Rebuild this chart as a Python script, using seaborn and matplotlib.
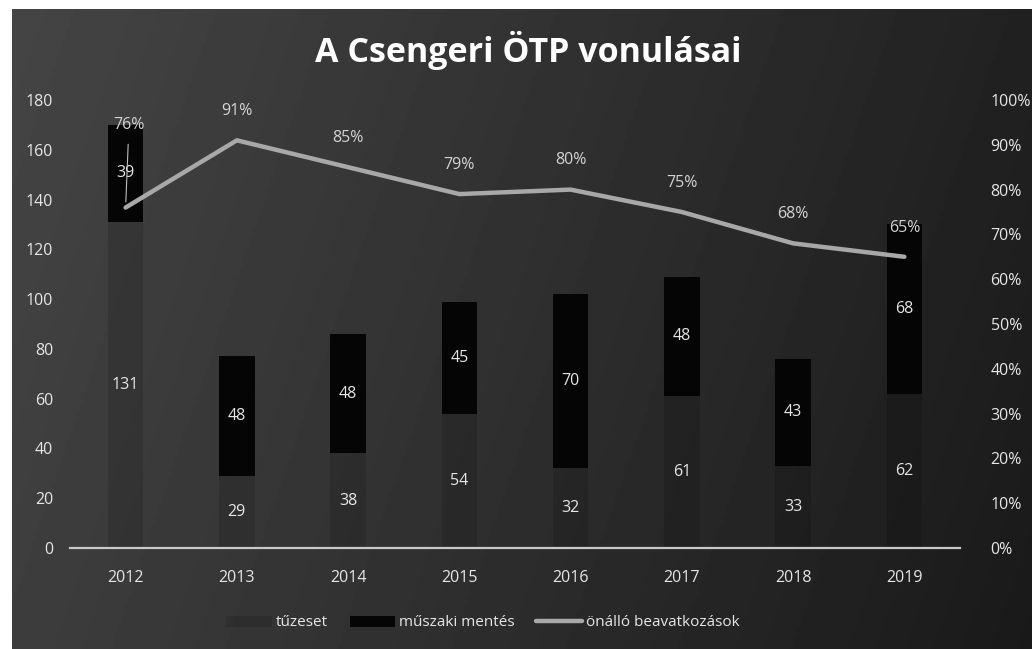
import numpy as np
import pandas as pd
import matplotlib
matplotlib.use("Agg")
import matplotlib.pyplot as plt
from matplotlib.ticker import PercentFormatter, MultipleLocator
import seaborn as sns

# ---- data ----
years = ["2012", "2013", "2014", "2015", "2016", "2017", "2018", "2019"]
tuzeset = [131, 29, 38, 54, 32, 61, 33, 62]
muszaki = [39, 48, 48, 45, 70, 48, 43, 68]
onallo = [76, 91, 85, 79, 80, 75, 68, 65]

title = "A Csengeri ÖTP vonulásai"
label_tuz = "tűzeset"
label_musz = "műszaki mentés"
label_onallo = "önálló beavatkozások"

sns.set_theme(style="white")
plt.rcParams["font.family"] = ["Open Sans", "DejaVu Sans"]

W, H = 1032, 649
fig = plt.figure(figsize=(W / 100, H / 100), dpi=100, facecolor="white")

# dark scanned-looking background
bg = fig.add_axes([12 / W, 0, 1 - 12 / W, 1 - 9 / H], zorder=-5)
gx = np.linspace(0, 1, 300)
gy = np.linspace(0, 1, 200)
GX, GY = np.meshgrid(gx, gy)
grad = 0.27 - 0.14 * GX - 0.03 * GY
bg.imshow(grad, cmap="gray", vmin=0, vmax=1, aspect="auto", extent=[0, 1, 0, 1])
bg.axis("off")

ax = fig.add_axes([70 / W, 1 - 548 / H, 890 / W, 448 / H])
ax.patch.set_alpha(0)

df = pd.DataFrame({"year": years, "tuz": tuzeset, "musz": muszaki})
sns.barplot(data=df, x="year", y="tuz", color="black", alpha=0.13,
            width=0.32, ax=ax, label=label_tuz, saturation=1, linewidth=0)
sns.barplot(data=df, x="year", y="musz", color="#050505", bottom=df["tuz"].values,
            width=0.32, ax=ax, label=label_musz, saturation=1, linewidth=0)

txt_col = "#e6e6e6"
for cont in ax.containers:
    ax.bar_label(cont, label_type="center", color=txt_col, fontsize=11.5)

h1, l1 = ax.get_legend_handles_labels()
if ax.get_legend() is not None:
    ax.get_legend().remove()

ax.set_ylim(0, 180)
ax.set_xlim(-0.5, len(years) - 0.5)
ax.yaxis.set_major_locator(MultipleLocator(20))
ax.set_xlabel("")
ax.set_ylabel("")
for s in ["left", "right", "top"]:
    ax.spines[s].set_visible(False)
ax.spines["bottom"].set_color("#c8c8c8")
ax.spines["bottom"].set_linewidth(1.6)
ax.tick_params(axis="both", length=0, colors=txt_col, labelsize=11.5)
ax.tick_params(axis="x", pad=16)
ax.tick_params(axis="y", pad=12)
ax.grid(False)

ax2 = ax.twinx()
ax2.patch.set_alpha(0)
sns.lineplot(x=np.arange(len(years)), y=onallo, ax=ax2, color="#a8a8a8",
             linewidth=3.2, label=label_onallo, legend=False)
ax2.set_ylim(0, 100)
ax2.yaxis.set_major_locator(MultipleLocator(10))
ax2.yaxis.set_major_formatter(PercentFormatter(100, decimals=0))
for s in ax2.spines.values():
    s.set_visible(False)
ax2.tick_params(axis="y", length=0, colors=txt_col, labelsize=11.5, pad=22)
ax2.grid(False)

for i, v in enumerate(onallo):
    if i == 0:
        ax2.annotate(f"{v}%", xy=(i, v), xytext=(i + 0.03, 94.5),
                     ha="center", va="center", color="#d4d4d4", fontsize=11.5,
                     arrowprops=dict(arrowstyle="-", color="#bdbdbd", lw=0.8,
                                     shrinkA=6, shrinkB=4))
    else:
        ax2.annotate(f"{v}%", xy=(i, v), xytext=(0, 21), textcoords="offset points",
                     ha="center", va="center", color="#d4d4d4", fontsize=11.5)

h2, l2 = ax2.get_legend_handles_labels()
fig.legend(h1 + h2, l1 + l2, loc="center", bbox_to_anchor=(0.468, 1 - 623 / H),
           ncol=3, frameon=False, fontsize=11, labelcolor=txt_col,
           handlelength=3.0, columnspacing=1.4, handletextpad=0.25)

fig.text(0.512, 1 - 50 / H, title, ha="center", va="center", color="white",
         fontsize=24.5, fontweight="bold")

fig.savefig("out.png", dpi=100, facecolor="white")
